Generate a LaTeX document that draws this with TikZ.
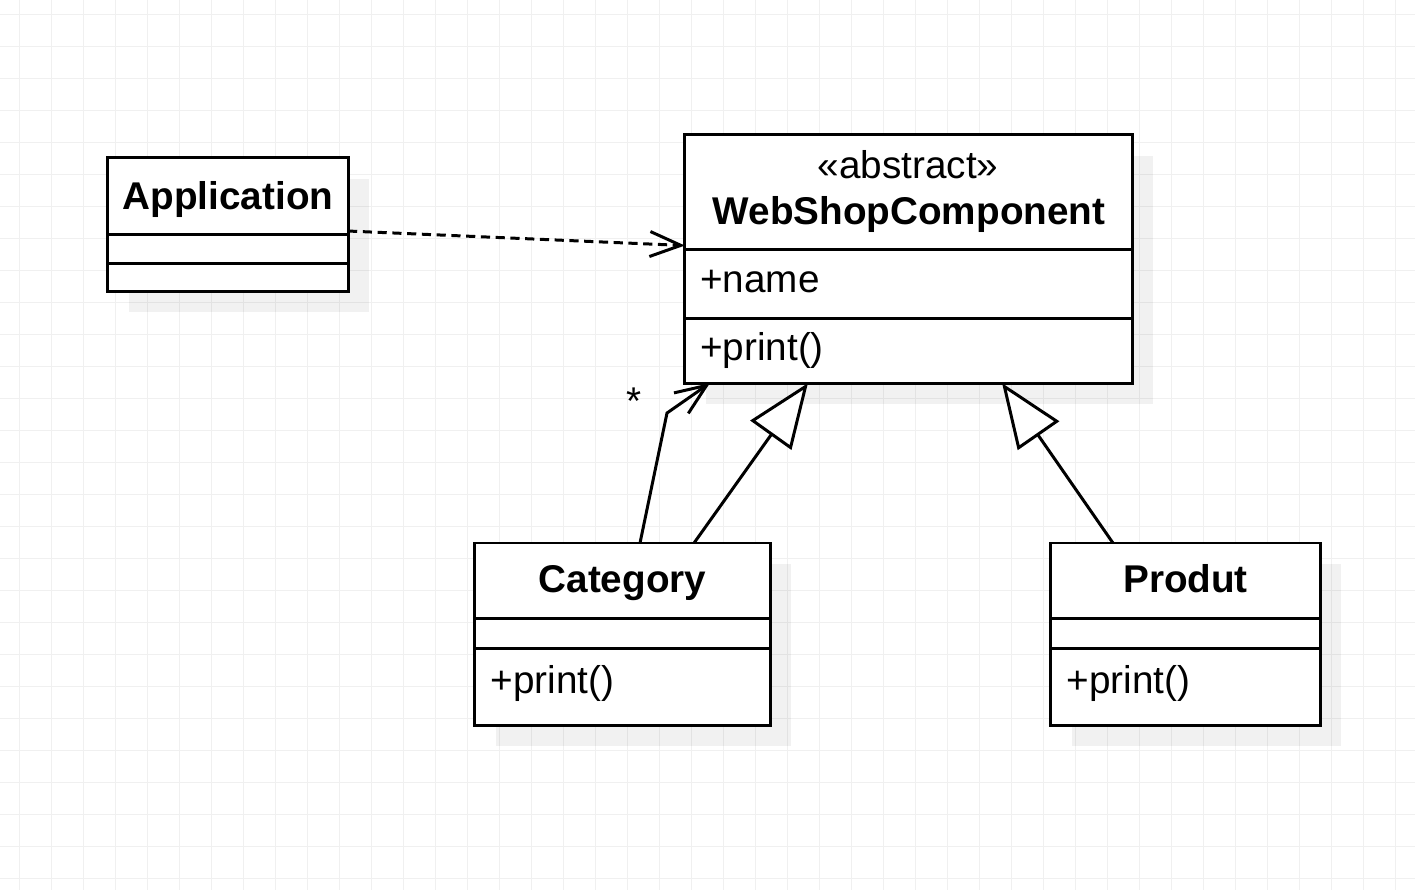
\documentclass[tikz,border=0pt]{standalone}
\usepackage{fontspec}
\setmainfont{Liberation Sans}
\usetikzlibrary{positioning, arrows.meta, backgrounds}

\newcommand{\umlfont}{\fontsize{11pt}{13.5pt}\selectfont}

\tikzset{
    compartment/.style={draw, line width=0.85pt, fill=white, inner sep=0pt, outer sep=0pt},
    classname/.style={anchor=base, inner sep=0pt, font=\umlfont\bfseries},
    stereotype/.style={anchor=base, inner sep=0pt, font=\umlfont},
    member/.style={anchor=base west, inner sep=0pt, font=\umlfont},
    gridline/.style={black!6, line width=0.4pt},
    shadowbox/.style={fill=black, fill opacity=0.055},
    connector/.style={line width=0.85pt, line join=miter},
    realizes/.style={connector, dash pattern=on 2.6pt off 1.6pt, -{Straight Barb[length=0.31cm, width=0.25cm]}},
    navigates/.style={connector, -{Straight Barb[length=0.31cm, width=0.25cm]}},
    extends/.style={connector, -{Triangle[open, fill=white, length=0.64cm, width=0.5cm]}}
}

\begin{document}
\begin{tikzpicture}[x=0.01cm, y=-0.01cm]
    \useasboundingbox (0, 0) rectangle (1415, 890);
    % Application
    \node[compartment, minimum width=2.40cm, minimum height=0.76cm] (app head) at (228, 196) {};
    \node[compartment, minimum width=2.40cm, minimum height=0.29cm, below=0pt of app head] (app attr) {};
    \node[compartment, minimum width=2.40cm, minimum height=0.28cm, below=0pt of app attr] (app ops) {};
    \node[classname] (app name) at (228, 209) {Application};
    % WebShopComponent
    \node[compartment, minimum width=4.47cm, minimum height=1.14cm] (web head) at (908.5, 192) {};
    \node[compartment, minimum width=4.47cm, minimum height=0.69cm, below=0pt of web head] (web attr) {};
    \node[compartment, minimum width=4.47cm, minimum height=0.65cm, below=0pt of web attr] (web ops) {};
    \node[stereotype] (web stereo) at (908, 178) {«abstract»};
    \node[classname] (web name) at (909, 224.3) {WebShopComponent};
    \node[member] (web field) at (699.5, 292.5) {+name};
    \node[member] (web print) at (699.5, 360.5) {+print()};
    % Category
    \node[compartment, minimum width=2.95cm, minimum height=0.75cm] (cat head) at (622.5, 580.5) {};
    \node[compartment, minimum width=2.95cm, minimum height=0.30cm, below=0pt of cat head] (cat attr) {};
    \node[compartment, minimum width=2.95cm, minimum height=0.77cm, below=0pt of cat attr] (cat ops) {};
    \node[classname] (cat name) at (622.5, 592.7) {Category};
    \node[member] (cat print) at (490, 693) {+print()};
    % Produt
    \node[compartment, minimum width=2.69cm, minimum height=0.75cm] (prod head) at (1185.5, 580.5) {};
    \node[compartment, minimum width=2.69cm, minimum height=0.30cm, below=0pt of prod head] (prod attr) {};
    \node[compartment, minimum width=2.69cm, minimum height=0.77cm, below=0pt of prod attr] (prod ops) {};
    \node[classname] (prod name) at (1185.5, 592.7) {Produt};
    \node[member] (prod print) at (1066, 693) {+print()};
    % relations
    \draw[realizes] ([yshift=0.03cm]app head.south east) -- ([yshift=0.035cm]web head.south west);
    \coordinate (bend) at (667, 413);
    \draw[navigates] ([xshift=0.175cm]cat head.north) -- (bend) -- ([xshift=0.25cm]web ops.south west);
    \node[stereotype] (mult) at (634, 414) {*};
    \draw[extends] ([xshift=0.715cm]cat head.north) -- ([xshift=1.23cm]web ops.south west);
    \draw[extends] ([xshift=-0.725cm]prod head.north) -- ([xshift=-1.30cm]web ops.south east);
    % paper, grid and shadows
    \begin{scope}[on background layer]
        \fill[white] (0, 0) rectangle (1415, 890);
        \foreach \i in {0,...,43}
            \draw[gridline] (19.3+32*\i, 0) -- (19.3+32*\i, 890);
        \foreach \j in {0,...,27}
            \draw[gridline] (0, 14.3+32*\j) -- (1415, 14.3+32*\j);
        \fill[shadowbox] ([shift={(21, 21)}]app head.north west) rectangle ([shift={(21, 21)}]app ops.south east);
        \fill[shadowbox] ([shift={(21, 21)}]web head.north west) rectangle ([shift={(21, 21)}]web ops.south east);
        \fill[shadowbox] ([shift={(21, 21)}]cat head.north west) rectangle ([shift={(21, 21)}]cat ops.south east);
        \fill[shadowbox] ([shift={(21, 21)}]prod head.north west) rectangle ([shift={(21, 21)}]prod ops.south east);
    \end{scope}
\end{tikzpicture}
\end{document}
